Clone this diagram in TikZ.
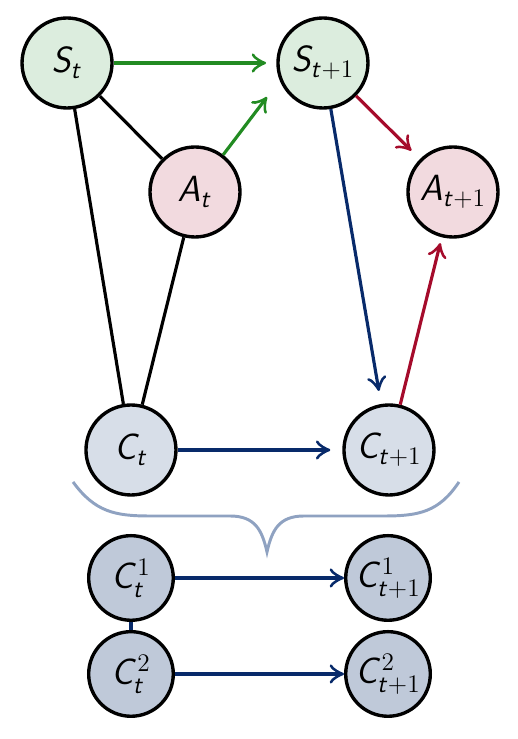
\documentclass[tikz,border=0pt]{standalone}
\usepackage{amsmath}
\usetikzlibrary{arrows.meta}
\DeclareMathAlphabet{\mathsfit}{OT1}{cmss}{m}{sl}
\newcommand{\vr}[1]{\mathsfit{#1}}
\definecolor{stfill}{HTML}{DCEDDE}
\definecolor{atfill}{HTML}{F2DADF}
\definecolor{ctfill}{HTML}{D7DEE8}
\definecolor{cifill}{HTML}{BFC9D9}
\definecolor{grarrow}{HTML}{228B22}
\definecolor{rdarrow}{HTML}{A50B2B}
\definecolor{blarrow}{HTML}{082A6A}
\definecolor{bracecol}{HTML}{8FA2C1}
\tikzset{
  var/.style={circle,draw,line width=1.6pt,inner sep=0pt,minimum size=1.5cm,font=\LARGE},
  subvar/.style={var,minimum size=1.41cm},
  link/.style={line width=1.5pt},
  arr/.style={link,-{Classical TikZ Rightarrow[length=0.24cm,width=0.32cm]},shorten >=0.2cm},
}
\begin{document}
\begin{tikzpicture}
        \useasboundingbox (0,0) rectangle (8.633,-12.317);
        \node(St)[var,fill=stfill] at (1.117,-1.05){$\vr{S}_{\vr{t}}$};
        \node(St1)[var,fill=stfill] at (5.383,-1.05){$\vr{S}_{\vr{t}+1}$};
        \node(At)[var,fill=atfill] at (3.25,-3.2){$\vr{A}_{\vr{t}}$};
        \node(At1)[var,fill=atfill] at (7.55,-3.2){$\vr{A}_{\vr{t}+1}$};
        \node(Ct)[var,fill=ctfill] at (2.183,-7.5){$\vr{C}_{\vr{t}}$};
        \node(Ct1)[var,fill=ctfill] at (6.483,-7.5){$\vr{C}_{\vr{t}+1}$};
        \node(C1t)[subvar,fill=cifill] at (2.183,-9.633){$\vr{C}_{\vr{t}}^1$};
        \node(C2t)[subvar,fill=cifill] at (2.183,-11.233){$\vr{C}_{\vr{t}}^2$};
        \node(C1t1)[subvar,fill=cifill] at (6.467,-9.633){$\vr{C}_{\vr{t}+1}^1$};
        \node(C2t1)[subvar,fill=cifill] at (6.467,-11.233){$\vr{C}_{\vr{t}+1}^2$};
        \coordinate(g) at (4.45,-1.617);
        % undirected part
        \draw[link] (St) -- (At);
        \draw[link] (St) -- (Ct);
        \draw[link] (At) -- (Ct);
        % transitions
        \draw[arr,grarrow,shorten >=0.17cm] (St) -- (St1);
        \draw[arr,grarrow,shorten >=0pt] (At) -- (g);
        \draw[arr,rdarrow] (St1) -- (At1);
        \draw[arr,blarrow,shorten >=0.22cm] (St1) -- (Ct1);
        \draw[arr,rdarrow,shorten >=0.1cm] (Ct1) -- (At1);
        \draw[arr,blarrow] (Ct) -- (Ct1);
        % brace
        \draw[bracecol,line width=1.4pt] (1.217,-8.033) .. controls (1.583,-8.533) and (1.917,-8.6) .. (2.5,-8.6) -- (3.833,-8.6) .. controls (4.25,-8.6) and (4.367,-8.833) .. (4.45,-9.2) .. controls (4.533,-8.833) and (4.65,-8.6) .. (5.067,-8.6) -- (6.4,-8.6) .. controls (6.983,-8.6) and (7.317,-8.533) .. (7.65,-8.033);
        % factored
        \draw[link,blarrow] (C1t) -- (C2t);
        \draw[arr,blarrow,shorten >=0pt] (C1t) -- (C1t1);
        \draw[arr,blarrow,shorten >=0pt] (C2t) -- (C2t1);
\end{tikzpicture}
\end{document}
